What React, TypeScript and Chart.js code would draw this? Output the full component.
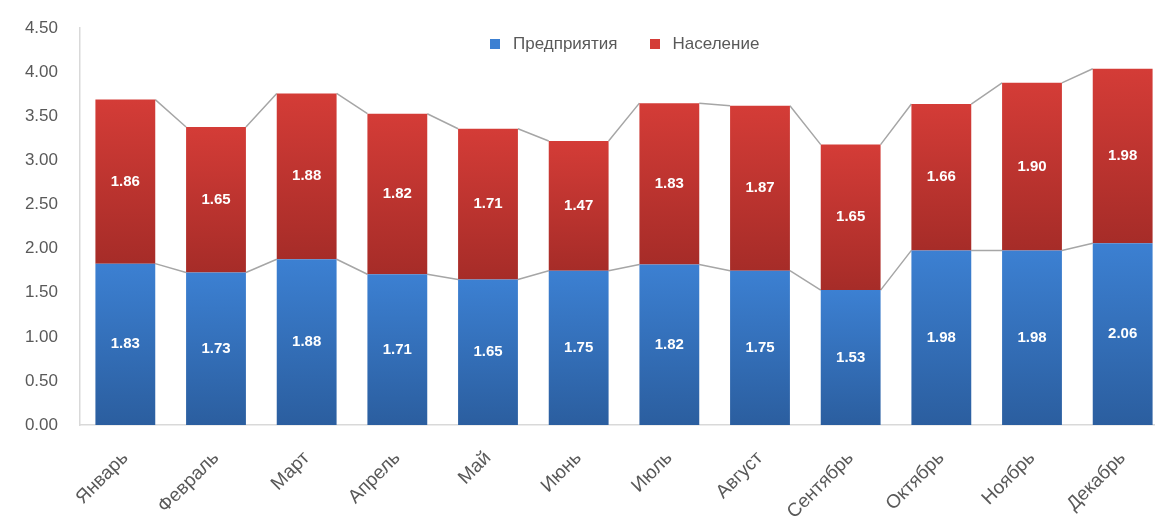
import React, { useEffect, useRef } from "react";
import { Chart, registerables } from "chart.js";

Chart.register(...registerables);

const months = ["Январь", "Февраль", "Март", "Апрель", "Май", "Июнь", "Июль", "Август", "Сентябрь", "Октябрь", "Ноябрь", "Декабрь"];
const seriesNames = ["Предприятия", "Население"];
const blueValues = [1.83, 1.73, 1.88, 1.71, 1.65, 1.75, 1.82, 1.75, 1.53, 1.98, 1.98, 2.06];
const redValues = [1.86, 1.65, 1.88, 1.82, 1.71, 1.47, 1.83, 1.87, 1.65, 1.66, 1.90, 1.98];
const yTicks = [0, 0.5, 1, 1.5, 2, 2.5, 3, 3.5, 4, 4.5];

const FONT = "Arial, 'Liberation Sans', sans-serif";

function makeGradient(chart: any, dsIndex: number, i: number, top: string, bottom: string) {
  const y = chart.scales && chart.scales.y;
  if (!y || !chart.chartArea) return top;
  const base = dsIndex === 0 ? 0 : blueValues[i];
  const end = dsIndex === 0 ? blueValues[i] : blueValues[i] + redValues[i];
  const y0 = y.getPixelForValue(end);
  const y1 = y.getPixelForValue(base);
  if (!isFinite(y0) || !isFinite(y1)) return top;
  const g = chart.ctx.createLinearGradient(0, y0, 0, y1);
  g.addColorStop(0, top);
  g.addColorStop(1, bottom);
  return g;
}

const seriesLinesPlugin = {
  id: "seriesLines",
  beforeDatasetsDraw(chart: any) {
    const ctx = chart.ctx;
    ctx.save();
    ctx.strokeStyle = "#a6a6a6";
    ctx.lineWidth = 1.5;
    for (let d = 0; d < 2; d++) {
      const meta = chart.getDatasetMeta(d);
      ctx.beginPath();
      for (let i = 0; i < meta.data.length - 1; i++) {
        const a = meta.data[i];
        const b = meta.data[i + 1];
        ctx.moveTo(a.x + a.width / 2, a.y);
        ctx.lineTo(b.x - b.width / 2, b.y);
      }
      ctx.stroke();
    }
    ctx.restore();
  },
};

const labelsPlugin = {
  id: "segLabels",
  afterDatasetsDraw(chart: any) {
    const ctx = chart.ctx;
    ctx.save();
    ctx.fillStyle = "#ffffff";
    ctx.font = "bold 15px " + FONT;
    ctx.textAlign = "center";
    ctx.textBaseline = "middle";
    for (let d = 0; d < 2; d++) {
      const meta = chart.getDatasetMeta(d);
      const vals = d === 0 ? blueValues : redValues;
      meta.data.forEach((el: any, i: number) => {
        const cy = (el.y + el.base) / 2;
        ctx.fillText(vals[i].toFixed(2), el.x, cy);
      });
    }
    ctx.restore();
  },
};

export default function App() {
  const ref = useRef<HTMLCanvasElement>(null);
  useEffect(() => {
    document.body.style.margin = "0";
    document.body.style.overflow = "hidden";
    const chart = new Chart(ref.current!, {
      type: "bar",
      data: {
        labels: months,
        datasets: [
          {
            label: seriesNames[0],
            data: blueValues,
            backgroundColor: (c: any) => makeGradient(c.chart, 0, c.dataIndex, "#3c80d2", "#2b5e9f"),
            barPercentage: 0.66,
            categoryPercentage: 1,
          },
          {
            label: seriesNames[1],
            data: redValues,
            backgroundColor: (c: any) => makeGradient(c.chart, 1, c.dataIndex, "#d43c37", "#a62c28"),
            barPercentage: 0.66,
            categoryPercentage: 1,
          },
        ],
      },
      options: {
        animation: false,
        responsive: false,
        layout: { padding: { top: 17, right: 0, left: 0, bottom: 0 } },
        plugins: { legend: { display: false }, tooltip: { enabled: false } },
        scales: {
          x: {
            stacked: true,
            grid: { display: false, drawTicks: false },
            border: { display: true, color: "#d9d9d9", width: 1.5 },
            ticks: {
              minRotation: 45,
              maxRotation: 45,
              color: "#595959",
              font: { family: FONT, size: 19 },
              padding: 22,
            },
            afterFit: (s: any) => {
              s.height = 105;
            },
          },
          y: {
            stacked: true,
            min: 0,
            max: 4.5,
            grid: { display: false, drawTicks: false },
            border: { display: true, color: "#d9d9d9", width: 1.5 },
            afterBuildTicks: (s: any) => {
              s.ticks = yTicks.map((v) => ({ value: v }));
            },
            ticks: {
              color: "#595959",
              font: { family: FONT, size: 17 },
              padding: 22,
              callback: (v: any) => Number(v).toFixed(2),
            },
            afterFit: (s: any) => {
              s.width = 80;
            },
          },
        },
      },
      plugins: [seriesLinesPlugin, labelsPlugin],
    });
    return () => chart.destroy();
  }, []);

  return (
    <div style={{ position: "absolute", left: 0, top: 0, width: 1170, height: 530, overflow: "hidden" }}>
      <canvas
        ref={ref}
        width={1168}
        height={534}
        style={{ display: "block", position: "absolute", left: 0, top: -4 }}
      />
      <div
        style={{
          position: "absolute",
          top: 34,
          left: 490,
          fontFamily: FONT,
          fontSize: 17,
          color: "#595959",
          whiteSpace: "nowrap",
          display: "flex",
          alignItems: "center",
        }}
      >
        <span style={{ display: "inline-block", width: 10, height: 10, background: "#3c80d2", marginRight: 13 }} />
        <span>{seriesNames[0]}</span>
        <span style={{ display: "inline-block", width: 10, height: 10, background: "#d43c37", marginLeft: 32, marginRight: 13 }} />
        <span>{seriesNames[1]}</span>
      </div>
    </div>
  );
}
